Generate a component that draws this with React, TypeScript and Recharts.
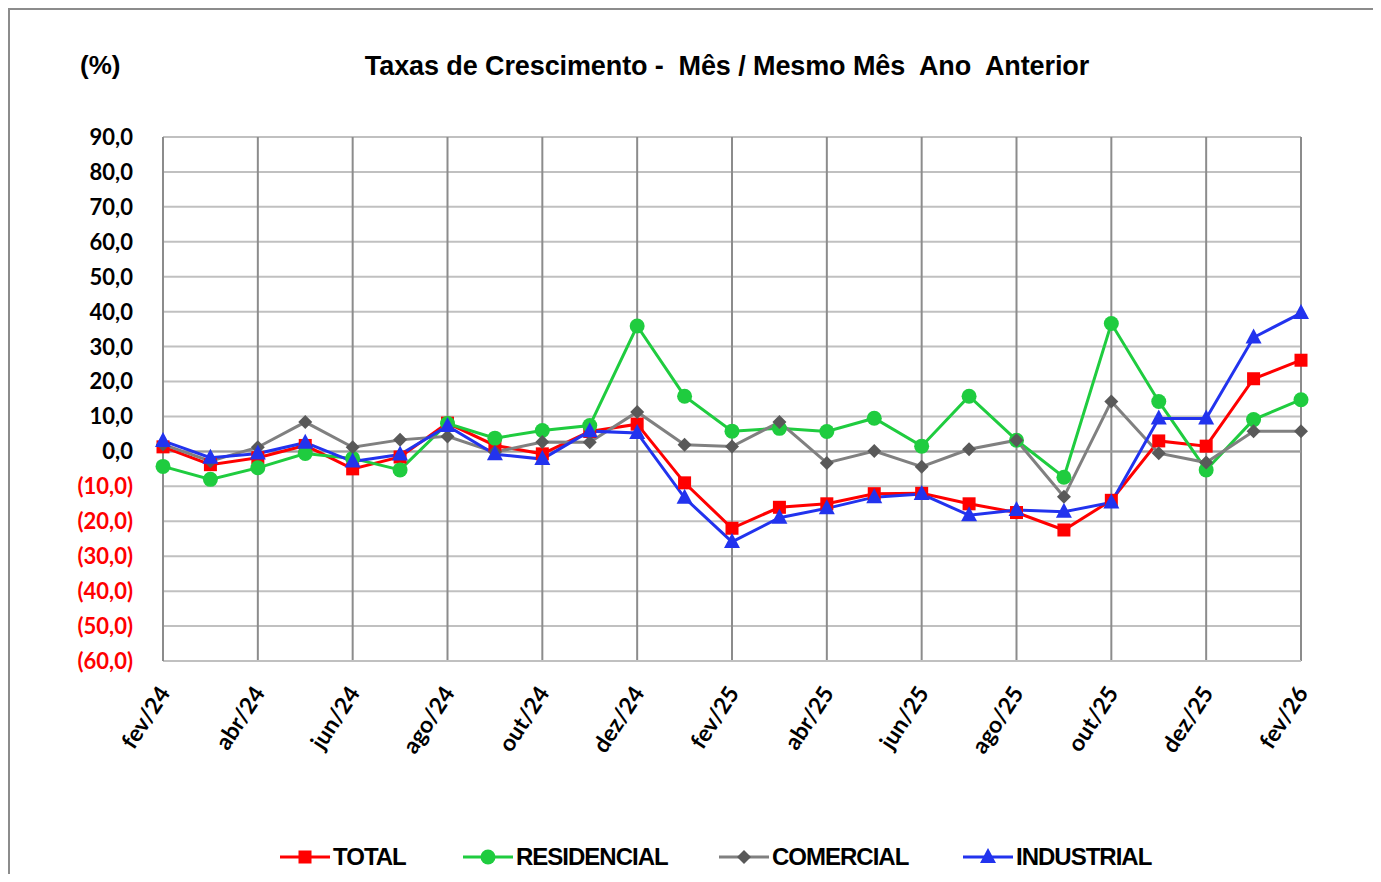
import React from "react";
import {
  CartesianGrid,
  Legend,
  Line,
  LineChart,
  ReferenceLine,
  XAxis,
  YAxis,
} from "recharts";

const months = [
  "fev/24", "mar/24", "abr/24", "mai/24", "jun/24", "jul/24", "ago/24",
  "set/24", "out/24", "nov/24", "dez/24", "jan/25", "fev/25", "mar/25",
  "abr/25", "mai/25", "jun/25", "jul/25", "ago/25", "set/25", "out/25",
  "nov/25", "dez/25", "jan/26", "fev/26",
];

const total = [
  1.3, -3.8, -1.8, 1.7, -5.0, -1.6, 8.1, 1.7, -0.7, 5.7, 7.8, -9.0, -22.0,
  -16.0, -15.0, -12.1, -12.0, -15.0, -17.5, -22.5, -14.0, 3.0, 1.5, 20.8, 26.1,
];
const residencial = [
  -4.3, -8.0, -4.7, -0.6, -2.0, -5.3, 8.0, 3.8, 6.0, 7.4, 35.9, 15.8, 5.8,
  6.6, 5.7, 9.5, 1.5, 15.8, 3.2, -7.4, 36.6, 14.3, -5.3, 9.1, 14.8,
];
const comercial = [
  2.0, -2.8, 1.2, 8.4, 1.2, 3.3, 4.3, -0.2, 2.7, 2.6, 11.3, 1.9, 1.4, 8.4,
  -3.3, 0.1, -4.4, 0.6, 3.2, -13.0, 14.3, -0.5, -3.2, 5.8, 5.8,
];
const industrial = [
  3.0, -1.8, -0.6, 2.5, -2.9, -0.9, 7.3, -0.8, -2.2, 5.8, 5.3, -13.3, -25.9,
  -19.0, -16.3, -13.1, -12.2, -18.3, -16.8, -17.3, -14.6, 9.4, 9.4, 32.6, 39.6,
];

const yTicks = [90, 80, 70, 60, 50, 40, 30, 20, 10, 0, -10, -20, -30, -40, -50, -60];

const data = months.map((m, i) => ({
  month: m,
  TOTAL: total[i],
  RESIDENCIAL: residencial[i],
  COMERCIAL: comercial[i],
  INDUSTRIAL: industrial[i],
}));

const RED = "#ff0000";
const GREEN = "#1fcc3f";
const GRAY_LINE = "#808080";
const GRAY_MARK = "#595959";
const BLUE = "#2233ee";

const LABEL_FONT = "Lato, 'Open Sans', sans-serif";
const TITLE_FONT = "'Liberation Sans', Arial, sans-serif";

function Marker({ kind, cx, cy }: { kind: string; cx: number; cy: number }) {
  if (kind === "TOTAL") {
    return <rect x={cx - 6.5} y={cy - 6.5} width={13} height={13} fill={RED} />;
  }
  if (kind === "RESIDENCIAL") {
    return <circle cx={cx} cy={cy} r={7.5} fill={GREEN} />;
  }
  if (kind === "COMERCIAL") {
    return (
      <polygon
        points={`${cx},${cy - 7} ${cx + 7},${cy} ${cx},${cy + 7} ${cx - 7},${cy}`}
        fill={GRAY_MARK}
      />
    );
  }
  return (
    <polygon
      points={`${cx},${cy - 9} ${cx + 8},${cy + 6} ${cx - 8},${cy + 6}`}
      fill={BLUE}
    />
  );
}

const makeDot = (kind: string) => (props: any) => {
  const { cx, cy, index } = props;
  if (cx == null || cy == null) return <g key={`${kind}-${index}`} />;
  return (
    <g key={`${kind}-${index}`}>
      <Marker kind={kind} cx={cx} cy={cy} />
    </g>
  );
};

function YTick(props: any) {
  const { x, y, payload } = props;
  const v = payload.value as number;
  const txt =
    v < 0
      ? `(${Math.abs(v).toFixed(1).replace(".", ",")})`
      : v.toFixed(1).replace(".", ",");
  return (
    <text
      x={x}
      y={y}
      dy="0.36em"
      textAnchor="end"
      fill={v < 0 ? RED : "#000"}
      fontFamily={LABEL_FONT}
      fontWeight={700}
      fontSize={22}
    >
      {txt}
    </text>
  );
}

function XTick(props: any) {
  const { x, y, payload } = props;
  return (
    <g transform={`translate(${x + 8},${y + 24})`}>
      <text
        transform="rotate(-57)"
        textAnchor="end"
        fill="#000"
        fontFamily={LABEL_FONT}
        fontWeight={700}
        fontSize={23}
      >
        {payload.value}
      </text>
    </g>
  );
}

// legend items: series key, colour, width of the label text
const seriesList = [
  { key: "TOTAL", color: RED, textWidth: 72 },
  { key: "RESIDENCIAL", color: GREEN, textWidth: 145 },
  { key: "COMERCIAL", color: GRAY_LINE, textWidth: 133 },
  { key: "INDUSTRIAL", color: BLUE, textWidth: 137 },
];

function LegendContent() {
  return (
    <div
      style={{
        display: "flex",
        alignItems: "center",
        height: 30,
        paddingLeft: 270,
        gap: 58,
      }}
    >
      {seriesList.map((s) => (
        <div key={s.key} style={{ display: "flex", alignItems: "center", height: 30 }}>
          <svg width={53} height={30} style={{ display: "block" }}>
            <line x1={0} x2={50} y1={15} y2={15} stroke={s.color} strokeWidth={3} />
            <Marker kind={s.key} cx={25} cy={15} />
          </svg>
          <span
            style={{
              display: "inline-block",
              width: s.textWidth,
              whiteSpace: "nowrap",
              fontFamily: TITLE_FONT,
              fontWeight: 700,
              fontSize: 24,
              lineHeight: "30px",
              letterSpacing: -1,
              color: "#000",
            }}
          >
            {s.key}
          </span>
        </div>
      ))}
    </div>
  );
}

export default function App() {
  return (
    <div
      style={{
        position: "relative",
        width: 1363,
        height: 864,
        borderLeft: "2px solid #8c8c8c",
        borderTop: "2px solid #8c8c8c",
        background: "#fff",
      }}
    >
      <div
        style={{
          position: "absolute",
          left: 70,
          top: 40,
          fontFamily: TITLE_FONT,
          fontWeight: 700,
          fontSize: 26,
          color: "#000",
        }}
      >
        (%)
      </div>
      <div
        style={{
          position: "absolute",
          left: 0,
          width: 1434,
          top: 41,
          textAlign: "center",
          fontFamily: TITLE_FONT,
          fontWeight: 700,
          fontSize: 27,
          color: "#000",
          whiteSpace: "pre",
          letterSpacing: -0.1,
        }}
      >
        {"Taxas de Crescimento -  Mês / Mesmo Mês  Ano  Anterior"}
      </div>
      <LineChart
        width={1363}
        height={864}
        data={data}
        margin={{ top: 127, right: 72, bottom: 2, left: 83 }}
      >
        <CartesianGrid vertical={false} stroke="#c0c0c0" strokeWidth={2} />
        <CartesianGrid horizontal={false} stroke="#8c8c8c" strokeWidth={2} />
        <XAxis
          dataKey="month"
          interval={1}
          tickLine={false}
          axisLine={{ stroke: "#c0c0c0", strokeWidth: 2 }}
          height={181}
          tick={<XTick />}
        />
        <YAxis
          domain={[-60, 90]}
          ticks={yTicks}
          interval={0}
          width={70}
          tickLine={false}
          tickMargin={24}
          axisLine={{ stroke: "#8c8c8c", strokeWidth: 2 }}
          tick={<YTick />}
        />
        <ReferenceLine y={0} stroke="#9a9a9a" strokeWidth={2} />
        <Legend verticalAlign="bottom" content={<LegendContent />} wrapperStyle={{ left: 0, width: 1363 }} />
        <Line
          dataKey="TOTAL"
          stroke={RED}
          strokeWidth={3}
          dot={makeDot("TOTAL")}
          activeDot={false}
          isAnimationActive={false}
        />
        <Line
          dataKey="RESIDENCIAL"
          stroke={GREEN}
          strokeWidth={3}
          dot={makeDot("RESIDENCIAL")}
          activeDot={false}
          isAnimationActive={false}
        />
        <Line
          dataKey="COMERCIAL"
          stroke={GRAY_LINE}
          strokeWidth={3}
          dot={makeDot("COMERCIAL")}
          activeDot={false}
          isAnimationActive={false}
        />
        <Line
          dataKey="INDUSTRIAL"
          stroke={BLUE}
          strokeWidth={3}
          dot={makeDot("INDUSTRIAL")}
          activeDot={false}
          isAnimationActive={false}
        />
      </LineChart>
    </div>
  );
}
